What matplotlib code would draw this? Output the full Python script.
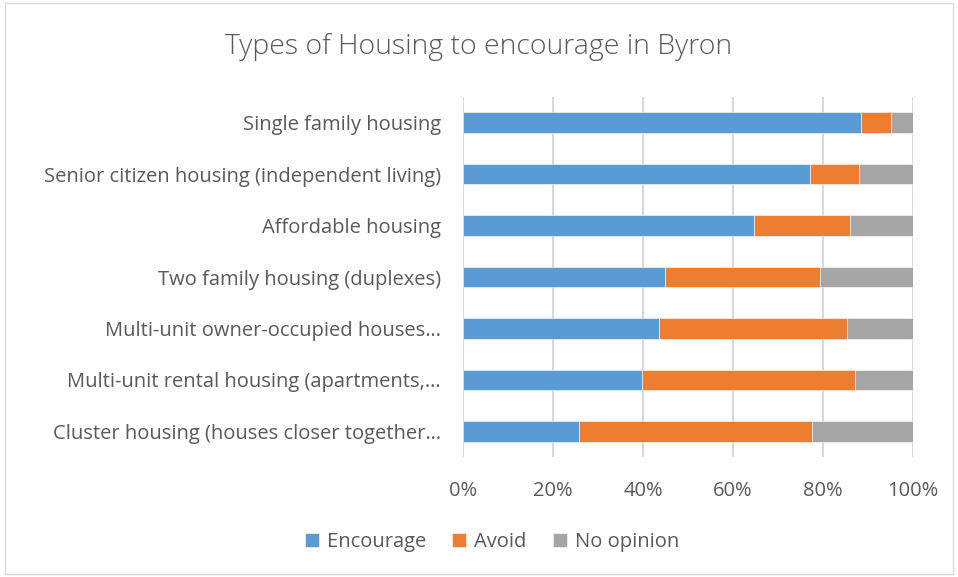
import numpy as np
import matplotlib.pyplot as plt
from matplotlib.patches import Rectangle
from matplotlib.ticker import PercentFormatter

categories = [
    "Single family housing",
    "Senior citizen housing (independent living)",
    "Affordable housing",
    "Two family housing (duplexes)",
    "Multi-unit owner-occupied houses…",
    "Multi-unit rental housing (apartments,…",
    "Cluster housing (houses closer together…",
]
encourage = [88.5, 77.2, 64.7, 44.8, 43.6, 39.8, 25.7]
avoid = [6.5, 10.9, 21.3, 34.5, 41.8, 47.4, 51.9]
no_opinion = [100 - e - a for e, a in zip(encourage, avoid)]

series = ["Encourage", "Avoid", "No opinion"]
colors = ["#5B9BD5", "#ED7D31", "#A5A5A5"]
text_color = "#595959"

plt.rcParams["font.family"] = ["Open Sans", "DejaVu Sans"]

fig = plt.figure(figsize=(9.58, 5.77), dpi=100)
fig.patches.append(Rectangle((0.005, 0.005), 0.99, 0.99, transform=fig.transFigure,
                             fill=False, edgecolor="#d9d9d9", linewidth=1))
ax = fig.add_axes([463 / 958, 1 - 457 / 577, 450 / 958, 360 / 577])

y = np.arange(len(categories))
left = np.zeros(len(categories))
for name, vals, c in zip(series, [encourage, avoid, no_opinion], colors):
    ax.barh(y, vals, left=left, height=0.4, color=c, label=name,
            edgecolor="white", linewidth=0.4, zorder=3)
    left += np.array(vals)

ax.set_xlim(0, 100)
ax.set_ylim(len(categories) - 0.5, -0.5)
ax.set_xticks(np.arange(0, 101, 20))
ax.xaxis.set_major_formatter(PercentFormatter(decimals=0))
ax.set_yticks(y)
ax.set_yticklabels(categories)
ax.tick_params(axis="both", length=0, labelsize=14.5, colors=text_color)
ax.tick_params(axis="x", pad=17)
ax.tick_params(axis="y", pad=16)
ax.grid(axis="x", color="#d9d9d9", linewidth=1.5, zorder=0)
for s in ax.spines.values():
    s.set_visible(False)

fig.text(0.5, 1 - 47 / 577, "Types of Housing to encourage in Byron", ha="center", va="center",
         fontsize=20.5, color=text_color, fontweight="light")

fig.legend(loc="center", bbox_to_anchor=(0.5 + 13 / 958, 1 - 542 / 577), ncol=3, frameon=False,
           fontsize=14.5, labelcolor=text_color, handlelength=0.7, handleheight=0.7,
           handletextpad=0.4, columnspacing=1.3)

fig.savefig("out.png", dpi=100)
